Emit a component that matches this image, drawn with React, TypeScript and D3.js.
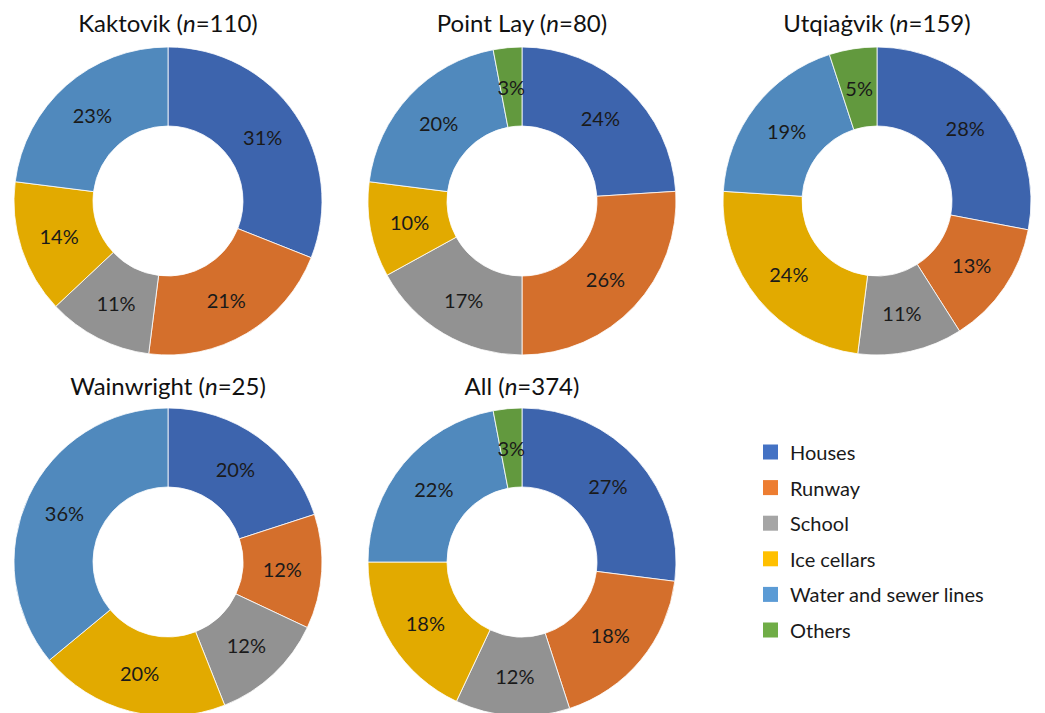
import React from "react";
import * as d3 from "d3";

// Categories and palette (slice colours / legend swatch colours)
const categories = ["Houses", "Runway", "School", "Ice cellars", "Water and sewer lines", "Others"];
const sliceColors = ["#3D64AD", "#D46F2C", "#929292", "#E2AA00", "#5089BD", "#62993E"];
const swatchColors = ["#4472C4", "#ED7D31", "#A5A5A5", "#FFC000", "#5B9BD5", "#70AD47"];

// Share of reported damage (%) per community, in category order
const kaktovik = [31, 21, 11, 14, 23, 0];
const pointLay = [24, 26, 17, 10, 20, 3];
const utqiagvik = [28, 13, 11, 24, 19, 5];
const wainwright = [20, 12, 12, 20, 36, 0];
const allSites = [27, 18, 12, 18, 22, 3];

const places = ["Kaktovik", "Point Lay", "Utqiaġvik", "Wainwright", "All"];
const sampleSizes = [110, 80, 159, 25, 374];
const series = [kaktovik, pointLay, utqiagvik, wainwright, allSites];

const W = 1045;
const H = 713;
const FONT = "Lato, 'Open Sans', sans-serif";

const colX = [168, 522, 877];
const rowY = [201, 562];
const titleY = [32, 395];
const OUTER = 154;
const INNER = 75;

const pie = d3
  .pie<number>()
  .sort(null)
  .value((d) => d)
  .startAngle(0)
  .endAngle(2 * Math.PI);
const arc = d3.arc<d3.PieArcDatum<number>>().innerRadius(INNER).outerRadius(OUTER);
const labelArc = d3
  .arc<d3.PieArcDatum<number>>()
  .innerRadius((INNER + OUTER) / 2)
  .outerRadius((INNER + OUTER) / 2);

function Donut({ idx }: { idx: number }) {
  const col = idx % 3;
  const row = Math.floor(idx / 3);
  const cx = colX[col];
  const cy = rowY[row];
  const arcs = pie(series[idx]);
  return (
    <g>
      <text
        x={cx}
        y={titleY[row]}
        textAnchor="middle"
        fontFamily={FONT}
        fontSize={24}
        fill="#111"
      >
        {places[idx]} (<tspan fontStyle="italic">n</tspan>={sampleSizes[idx]})
      </text>
      <g transform={`translate(${cx},${cy})`}>
        {arcs.map((a, i) =>
          a.value > 0 ? (
            <path key={i} d={arc(a) || ""} fill={sliceColors[i]} stroke="#fff" strokeWidth={0.8} />
          ) : null
        )}
        {arcs.map((a, i) => {
          if (a.value <= 0) return null;
          const [lx, ly] = labelArc.centroid(a);
          return (
            <text
              key={"l" + i}
              x={lx}
              y={ly}
              textAnchor="middle"
              dominantBaseline="central"
              fontFamily={FONT}
              fontSize={20}
              fill="#1a1a1a"
            >
              {a.value}%
            </text>
          );
        })}
      </g>
    </g>
  );
}

function Legend() {
  const x0 = 763;
  const y0 = 452;
  const step = 35.6;
  return (
    <g>
      {categories.map((c, i) => (
        <g key={c} transform={`translate(${x0},${y0 + i * step})`}>
          <rect x={0} y={-7.5} width={15} height={15} fill={swatchColors[i]} />
          <text
            x={27}
            y={0}
            dominantBaseline="central"
            fontFamily={FONT}
            fontSize={20}
            fill="#1a1a1a"
          >
            {c}
          </text>
        </g>
      ))}
    </g>
  );
}

export default function App() {
  return (
    <svg
      width={W}
      height={H}
      viewBox={`0 0 ${W} ${H}`}
      style={{ position: "absolute", left: 0, top: 0, background: "#fff" }}
    >
      <rect width={W} height={H} fill="#fff" />
      {series.map((_, i) => (
        <Donut key={i} idx={i} />
      ))}
      <Legend />
    </svg>
  );
}
